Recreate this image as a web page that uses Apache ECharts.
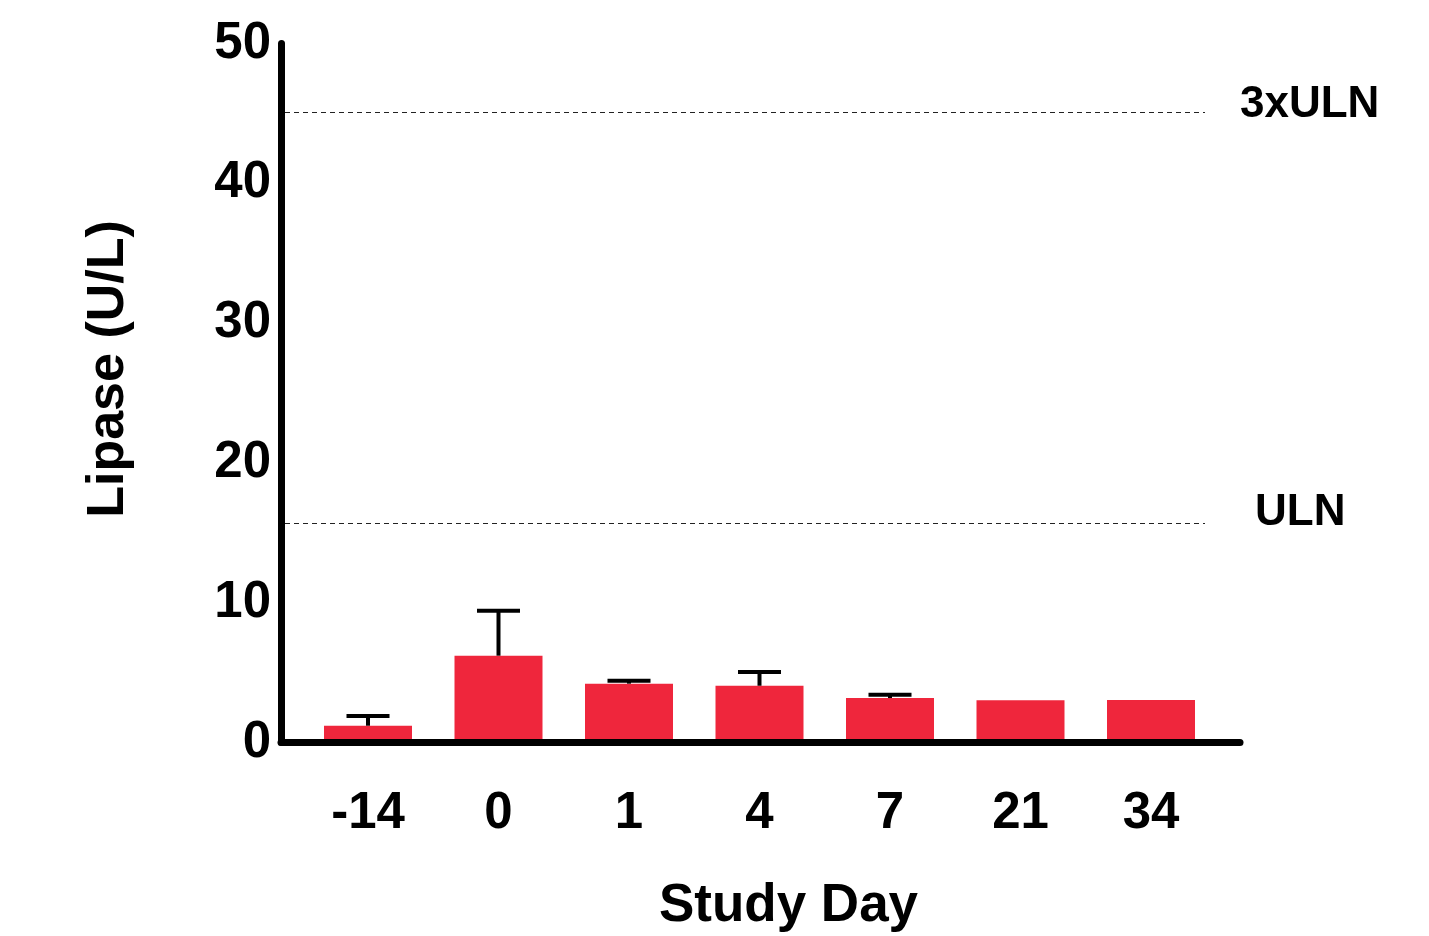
<!DOCTYPE html>
<html lang="en">

<head>
    <meta charset="UTF-8">
    <title>Lipase</title>
    <script src="https://cdn.jsdelivr.net/npm/echarts@6/dist/echarts.min.js"></script>
    <style>
        body,
        html {
            background-color: #fff;
            width: 100%;
            height: 100%;
            margin: 0;
        }
    </style>
</head>

<body>
    <div id="chart" style="width: 1429px; height: 936px;"></div>
    <script>
        // study days on the x axis
        var days = ['-14', '0', '1', '4', '7', '21', '34'];
        // mean lipase (U/L) and upper error (SD)
        var lipaseMean = [1.20, 6.21, 4.21, 4.06, 3.18, 3.02, 3.04];
        var lipaseErr = [0.70, 3.22, 0.21, 0.98, 0.24, null, null];
        // reference lines
        var refNames = ['3xULN', 'ULN'];
        var refValues = [45.08, 15.68];

        var font = "'Liberation Sans', Arial, sans-serif";

        var errData = [];
        for (var i = 0; i < days.length; i++) {
            if (lipaseErr[i] != null) errData.push([i, lipaseMean[i], lipaseMean[i] + lipaseErr[i]]);
        }
        // label tweaks: [gap after line end, lift above line * 2]
        var refLabel = [[35, 14], [50, 20]];
        var refData = refValues.map(function (v, i) {
            return {
                yAxis: v, name: refNames[i],
                label: { distance: refLabel[i][0], lineHeight: refLabel[i][1] }
            };
        });

        var yBase = { type: 'value', min: 0, max: 50, interval: 10, splitLine: { show: false } };
        var gridBase = { top: 43.5, bottom: 193.5, outerBoundsMode: 'none', containLabel: false };

        var option = {
            animation: false,
            grid: [
                // axes frame
                Object.assign({ left: 281, right: 189 }, gridBase),
                // bars
                Object.assign({ left: 302.75, right: 212.75 }, gridBase),
                // reference lines
                Object.assign({ left: 285, right: 224 }, gridBase)
            ],
            xAxis: [
                {
                    gridIndex: 0, type: 'value', min: 0, max: 1, z: 10,
                    axisLine: { lineStyle: { color: '#000', width: 7 } },
                    axisTick: { show: false }, axisLabel: { show: false }, splitLine: { show: false }
                },
                {
                    gridIndex: 1, type: 'category', data: days,
                    axisLine: { show: false }, axisTick: { show: false },
                    axisLabel: { fontFamily: font, fontWeight: 'bold', fontSize: 51, color: '#000', margin: 46 },
                    name: 'Study Day', nameLocation: 'middle', nameGap: 137,
                    nameTextStyle: { fontFamily: font, fontWeight: 'bold', fontSize: 53, color: '#000', padding: [0, 0, 0, 58] }
                },
                { gridIndex: 2, type: 'value', min: 0, max: 1, show: false }
            ],
            yAxis: [
                Object.assign({}, yBase, {
                    gridIndex: 0, z: 10,
                    axisLine: { show: true, lineStyle: { color: '#000', width: 7 } },
                    axisTick: { show: false },
                    axisLabel: { fontFamily: font, fontWeight: 'bold', fontSize: 51, color: '#000', margin: 10 },
                    name: 'Lipase (U/L)', nameLocation: 'middle', nameGap: 146,
                    nameTextStyle: { fontFamily: font, fontWeight: 'bold', fontSize: 52, color: '#000', padding: [0, 0, 0, 48] }
                }),
                Object.assign({}, yBase, { gridIndex: 1, show: false }),
                Object.assign({}, yBase, { gridIndex: 2, show: false })
            ],
            series: [
                {
                    type: 'bar', xAxisIndex: 1, yAxisIndex: 1,
                    barWidth: 88,
                    itemStyle: { color: '#ef263c' },
                    data: lipaseMean
                },
                {
                    type: 'custom', xAxisIndex: 1, yAxisIndex: 1, z: 5,
                    data: errData,
                    renderItem: function (params, api) {
                        var base = api.coord([api.value(0), api.value(1)]);
                        var top = api.coord([api.value(0), api.value(2)]);
                        var st = { stroke: '#000', lineWidth: 4 };
                        return {
                            type: 'group',
                            children: [
                                { type: 'line', shape: { x1: base[0], y1: base[1], x2: top[0], y2: top[1] }, style: st },
                                { type: 'line', shape: { x1: top[0] - 21.5, y1: top[1], x2: top[0] + 21.5, y2: top[1] }, style: st }
                            ]
                        };
                    }
                },
                {
                    type: 'line', xAxisIndex: 2, yAxisIndex: 2, data: [], silent: true,
                    markLine: {
                        silent: true,
                        symbol: ['none', 'none'],
                        lineStyle: { color: '#222', width: 1.2, type: [5, 4] },
                        label: {
                            position: 'end', formatter: '{b}', verticalAlign: 'bottom', align: 'left',
                            fontFamily: font, fontWeight: 'bold', fontSize: 44, color: '#000'
                        },
                        data: refData
                    }
                }
            ]
        };
        var myChart = echarts.init(document.getElementById('chart'));
        myChart.setOption(option);
    </script>
</body>

</html>
